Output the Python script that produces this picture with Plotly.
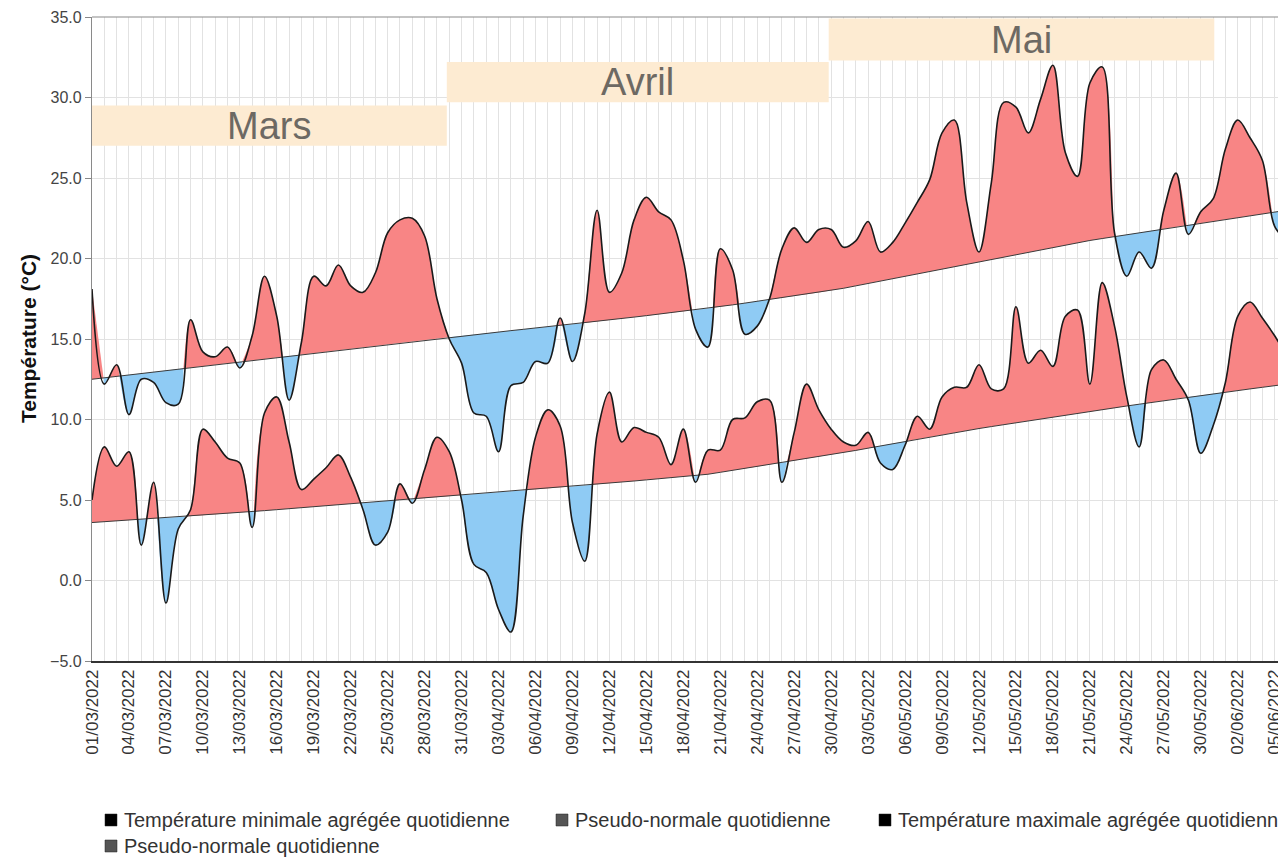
import datetime as dt
import plotly.graph_objects as go

# ---------------- data ----------------
start_date = dt.date(2022, 3, 1)

tmax = [18.1, 12.2, 13.4, 10.3, 12.5, 12.3, 11.05, 10.95, 16.2, 14.2,
        13.9, 14.5, 13.2, 15.2, 18.9, 16.4, 11.2, 14.8, 18.9, 18.3,
        19.6, 18.3, 17.9, 19.1, 21.6, 22.4, 22.5, 21.4, 17.5, 15.0,
        13.5, 10.4, 10.2, 8.0, 12.1, 12.3, 13.6, 13.5, 16.3, 13.6,
        16.6, 23.0, 17.9, 19.1, 22.4, 23.8, 22.9, 22.4, 19.9, 15.6,
        14.5, 20.6, 19.3, 15.3, 15.8, 17.5, 20.6, 21.9, 21.0, 21.8,
        21.8, 20.7, 21.1, 22.3, 20.4, 21.0, 22.2, 23.5, 24.9, 27.8,
        28.6, 23.5, 20.4, 24.7, 29.7, 29.4, 27.8, 29.9, 32.0, 26.6,
        25.1, 30.9, 31.9, 21.6, 18.9, 20.4, 19.4, 23.0, 25.3, 21.5,
        22.9, 23.7, 26.8, 28.6, 27.5, 26.1, 22.0, 21.1]

tmin = [5.0, 8.3, 7.1, 8.0, 2.2, 6.1, -1.4, 3.2, 4.4, 9.4,
        8.6, 7.6, 7.3, 3.3, 10.4, 11.4, 8.6, 5.65, 6.3, 7.0,
        7.8, 6.4, 4.4, 2.2, 3.0, 6.0, 4.8, 6.9, 8.9, 8.0,
        5.0, 1.0, 0.5, -1.8, -3.2, 4.0, 8.9, 10.6, 9.6, 3.6,
        1.2, 9.1, 11.7, 8.6, 9.5, 9.2, 8.9, 7.2, 9.4, 6.1,
        8.1, 8.1, 10.0, 10.1, 11.1, 11.2, 6.1, 9.2, 12.2, 10.6,
        9.4, 8.6, 8.4, 9.2, 7.3, 6.9, 8.4, 10.2, 9.4, 11.4,
        12.0, 12.0, 13.4, 11.9, 11.9, 17.0, 13.5, 14.3, 13.3, 16.4,
        16.8, 12.2, 18.5, 15.8, 11.4, 8.3, 13.1, 13.7, 12.5, 11.2,
        7.9, 9.6, 12.3, 16.4, 17.3, 16.3, 15.2, 13.9]

norm_max = [12.50, 12.59, 12.68, 12.77, 12.86, 12.95, 13.04, 13.13, 13.22, 13.31,
            13.40, 13.49, 13.58, 13.67, 13.76, 13.85, 13.94, 14.03, 14.12, 14.21,
            14.30, 14.39, 14.48, 14.57, 14.66, 14.75, 14.84, 14.93, 15.02, 15.11,
            15.20, 15.28, 15.36, 15.44, 15.52, 15.60, 15.68, 15.76, 15.84, 15.92,
            16.00, 16.09, 16.18, 16.27, 16.36, 16.45, 16.54, 16.63, 16.72, 16.81,
            16.90, 17.01, 17.12, 17.23, 17.34, 17.45, 17.56, 17.67, 17.78, 17.89,
            18.00, 18.15, 18.30, 18.45, 18.60, 18.75, 18.90, 19.05, 19.20, 19.35,
            19.50, 19.65, 19.80, 19.95, 20.10, 20.25, 20.40, 20.55, 20.70, 20.85,
            21.00, 21.12, 21.24, 21.36, 21.48, 21.60, 21.72, 21.84, 21.96, 22.08,
            22.20, 22.31, 22.43, 22.54, 22.66, 22.77, 22.89, 23.00]

norm_min = [3.60, 3.65, 3.70, 3.75, 3.80, 3.85, 3.90, 3.95, 4.00, 4.05,
            4.10, 4.16, 4.22, 4.28, 4.34, 4.40, 4.46, 4.52, 4.58, 4.64,
            4.70, 4.76, 4.82, 4.88, 4.94, 5.00, 5.06, 5.12, 5.18, 5.24,
            5.30, 5.36, 5.42, 5.48, 5.54, 5.60, 5.66, 5.72, 5.78, 5.84,
            5.90, 5.97, 6.04, 6.11, 6.18, 6.25, 6.32, 6.39, 6.46, 6.53,
            6.60, 6.72, 6.84, 6.96, 7.08, 7.20, 7.32, 7.44, 7.56, 7.68,
            7.80, 7.94, 8.08, 8.22, 8.36, 8.50, 8.64, 8.78, 8.92, 9.06,
            9.20, 9.32, 9.44, 9.56, 9.68, 9.80, 9.92, 10.04, 10.16, 10.28,
            10.40, 10.51, 10.62, 10.73, 10.84, 10.95, 11.06, 11.17, 11.28, 11.39,
            11.50, 11.60, 11.70, 11.80, 11.90, 12.00, 12.10, 12.20]

months = ["Mars", "Avril", "Mai"]
month_x0 = [0.0, 28.8, 59.8]
month_x1 = [28.8, 59.8, 91.1]
month_y0 = [27.0, 29.7, 32.3]
month_y1 = [29.5, 32.2, 34.9]

legend_labels = ["Température minimale agrégée quotidienne",
                 "Pseudo-normale quotidienne",
                 "Température maximale agrégée quotidienne",
                 "Pseudo-normale quotidienne"]

# ---------------- styling ----------------
FONT = "Liberation Sans, Arial, sans-serif"
RED = "#F88585"
BLUE = "#8FCBF4"
OFF = 8                      # default page body margin
W, H = 1286 - OFF, 857 - OFF
L, R, T = 92 - OFF, 0, 17 - OFF
PH = 644
B = H - T - PH
PW = W - L - R

days = list(range(len(tmax)))
dates = [start_date + dt.timedelta(days=d) for d in days]
tickvals = list(range(0, 97, 3))
ticktext = [dates[d].strftime("%d/%m/%Y") for d in tickvals]


def px_x(px):
    return (px - OFF - L) / PW


def px_y(py):
    return (T + PH - (py - OFF)) / PH


def segments(xs, vals, norm):
    segs = []
    sign = vals[0] >= norm[0]
    cx, cv, cn = [xs[0]], [vals[0]], [norm[0]]
    for i in range(len(xs) - 1):
        d0 = vals[i] - norm[i]
        d1 = vals[i + 1] - norm[i + 1]
        s1 = d1 >= 0
        if s1 != sign and d0 != d1:
            f = d0 / (d0 - d1)
            xc = xs[i] + f * (xs[i + 1] - xs[i])
            yc = norm[i] + f * (norm[i + 1] - norm[i])
            cx.append(xc); cv.append(yc); cn.append(yc)
            segs.append((sign, cx, cv, cn))
            cx, cv, cn = [xc], [yc], [yc]
            sign = s1
        cx.append(xs[i + 1]); cv.append(vals[i + 1]); cn.append(norm[i + 1])
    segs.append((sign, cx, cv, cn))
    return segs


fig = go.Figure()

for vals, norm in [(tmax, norm_max), (tmin, norm_min)]:
    for above, sx, sv, sn in segments(days, vals, norm):
        fig.add_trace(go.Scatter(x=sx, y=sn, mode="lines", line=dict(width=0),
                                 showlegend=False, hoverinfo="skip"))
        fig.add_trace(go.Scatter(x=sx, y=sv, mode="lines",
                                 line=dict(width=0, shape="spline"),
                                 fill="tonexty", fillcolor=RED if above else BLUE,
                                 showlegend=False, hoverinfo="skip"))

for norm in [norm_max, norm_min]:
    fig.add_trace(go.Scatter(x=days, y=norm, mode="lines",
                             line=dict(color="#3a3a3a", width=1),
                             showlegend=False))
for vals in [tmax, tmin]:
    fig.add_trace(go.Scatter(x=days, y=vals, mode="lines",
                             line=dict(color="#1a1a1a", width=1.6, shape="spline"),
                             showlegend=False))

shapes = []
annotations = []
for name, x0, x1, y0, y1 in zip(months, month_x0, month_x1, month_y0, month_y1):
    shapes.append(dict(type="rect", xref="x", yref="y", x0=x0, x1=x1, y0=y0, y1=y1,
                       fillcolor="#FDEBD2", line=dict(width=0), layer="between"))
    annotations.append(dict(x=(x0 + x1) / 2, y=(y0 + y1) / 2, xref="x", yref="y",
                            text=name, showarrow=False,
                            font=dict(family=FONT, size=38, color="#6d6963")))

# top border of plot area
shapes.append(dict(type="line", xref="paper", yref="paper", x0=0, x1=1, y0=1, y1=1,
                   line=dict(color="#8a8a8a", width=1.2)))

# y title
annotations.append(dict(x=px_x(28), y=0.5, xref="paper", yref="paper",
                        xanchor="center", yanchor="middle",
                        text="<b>Température (°C)</b>", textangle=-90, showarrow=False,
                        font=dict(family=FONT, size=21, color="#111")))

# legend (drawn manually)
leg_items = [(105, 820, "#000000", legend_labels[0]),
             (556, 820, "#555555", legend_labels[1]),
             (879, 820, "#000000", legend_labels[2]),
             (105, 846, "#555555", legend_labels[3])]
for sx, cy, col, lab in leg_items:
    shapes.append(dict(type="rect", xref="paper", yref="paper",
                       x0=px_x(sx), x1=px_x(sx + 12), y0=px_y(cy + 6), y1=px_y(cy - 6),
                       fillcolor=col, line=dict(color="#222", width=0.5)))
    annotations.append(dict(x=px_x(sx + 17), y=px_y(cy), xref="paper", yref="paper",
                            xanchor="left", yanchor="middle", text=lab, showarrow=False,
                            font=dict(family=FONT, size=20, color="#333")))

fig.update_layout(
    width=W, height=H,
    margin=dict(l=L, r=R, t=T, b=B, autoexpand=False),
    paper_bgcolor="white", plot_bgcolor="white",
    showlegend=False,
    shapes=shapes, annotations=annotations,
    xaxis=dict(range=[0, 96.92], tickmode="array", tickvals=tickvals, ticktext=ticktext,
               tickangle=-90, tickfont=dict(family=FONT, size=17, color="#333"),
               showgrid=True, gridcolor="#e2e2e2", gridwidth=1,
               minor=dict(tickmode="linear", tick0=0, dtick=1, showgrid=True,
                          gridcolor="#e2e2e2", gridwidth=1),
               showline=True, linecolor="#333", linewidth=1.5, ticks="",
               zeroline=False, automargin=False),
    yaxis=dict(range=[-5, 35], tickmode="linear", tick0=-5, dtick=5, tickformat=".1f",
               tickfont=dict(family=FONT, size=16, color="#444"),
               ticks="outside", ticklen=6, tickcolor="#888",
               showgrid=True, gridcolor="#e2e2e2", gridwidth=1,
               showline=True, linecolor="#8a8a8a", linewidth=1.2,
               zeroline=False, automargin=False),
)

fig.write_html("out.html")
